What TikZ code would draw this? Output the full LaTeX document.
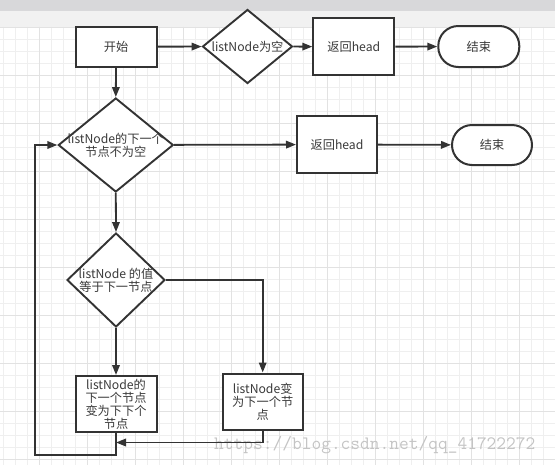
\documentclass[tikz,border=0pt]{standalone}
\usepackage{fontspec}
\newfontfamily\cjk{Noto Sans CJK SC}
\usetikzlibrary{shapes.geometric,arrows.meta}
\definecolor{dk}{HTML}{333333}
\definecolor{tx}{HTML}{3A3A3A}
\definecolor{gmin}{HTML}{EFEFEF}
\definecolor{gmaj}{HTML}{E2E2E2}
\definecolor{topband}{HTML}{D8D8DA}
\definecolor{subband}{HTML}{F1F1F1}
\definecolor{wm}{HTML}{C4C4C4}
\tikzset{
  box/.style={draw=dk, line width=2pt, fill=white, inner sep=0pt, align=center,
    font=\cjk\fontsize{12.2}{13}\selectfont, text=tx},
  term/.style={box, rounded corners=20pt},
  dia/.style={draw=dk, line width=1.9pt, fill=white, diamond, inner sep=0pt},
  dlab/.style={align=center, font=\cjk\fontsize{12.2}{13}\selectfont, text=tx},
  arr/.style={draw=dk, line width=1.8pt, -{Triangle[length=10pt,width=7.5pt]}},
  gminor/.style={draw=gmin, line width=0.8pt},
  gmajor/.style={draw=gmaj, line width=1pt}
}
\begin{document}
\begin{tikzpicture}[x=1pt,y=-1pt]
\useasboundingbox (0,0) rectangle (555,464);
% background
\fill[white] (0,0) rectangle (555,464);
\fill[topband] (0,0) rectangle (555,10.5);
\fill[subband] (0,10.5) rectangle (555,26.5);
\foreach \i in {0,...,45} {\draw[gminor] ({3.5+12*\i},26.5) -- ++(0,438);}
\foreach \j in {0,...,36} {\draw[gminor] (0,{27.3+12*\j}) -- ++(555,0);}
\foreach \i in {0,...,10} {\draw[gmajor] ({39.5+48*\i},26.5) -- ++(0,438);}
\foreach \j in {0,...,9} {\draw[gmajor] (0,{27.3+48*\j}) -- ++(555,0);}
% watermark
\node[anchor=base west, inner sep=0pt, text=wm, font=\ttfamily\fontsize{18.9}{20}\selectfont] (wmark) at (214,449) {https://blog.csdn.net/qq\_41722272};
% nodes
\node[box, minimum width=81pt, minimum height=40pt] (start) at (116,46.7) {开始};
\node[dia, minimum width=90pt, minimum height=74pt, label={[dlab]center:listNode为空}] (d1) at (247.5,46.5) {};
\node[box, minimum width=81pt, minimum height=57pt] (ret1) at (353.8,46.7) {返回head};
\node[term, minimum width=81pt, minimum height=41pt] (end1) at (478.8,46.5) {结束};
\node[dia, minimum width=115pt, minimum height=94pt, label={[dlab]center:listNode的下一个\\节点不为空}] (d2) at (115.8,145) {};
\node[box, minimum width=80pt, minimum height=57pt] (ret2) at (337,144.5) {返回head};
\node[term, minimum width=80pt, minimum height=40pt] (end2) at (492,145) {结束};
\node[dia, minimum width=98pt, minimum height=94pt, label={[dlab]center:listNode 的值\\等于下一节点}] (d3) at (116,280) {};
\node[box, minimum width=81pt, minimum height=56pt] (boxA) at (116,404) {listNode的\\下一个节点\\变为下下个\\节点};
\node[box, minimum width=80pt, minimum height=56pt] (boxB) at (262.7,401.5) {listNode变\\为下一个节\\点};
\coordinate (m) at (116,442.5);
\coordinate (lb) at (35,455);
% connectors
\draw[arr] (start) -- (d1);
\draw[arr] (d1) -- (ret1);
\draw[arr] (ret1) -- (end1);
\draw[arr] (start.south) -- (d2.north);
\draw[arr] (d2) -- (ret2);
\draw[arr] (ret2) -- (end2);
\draw[arr] (d2.south) -- (d3.north);
\draw[arr] (d3.south) -- (boxA.north);
\draw[arr] (d3.east) -| (boxB.north);
\draw[arr] (boxB.south) |- (m);
\draw[arr] (boxA.south) |- (lb) |- (d2.west);
\end{tikzpicture}
\end{document}
